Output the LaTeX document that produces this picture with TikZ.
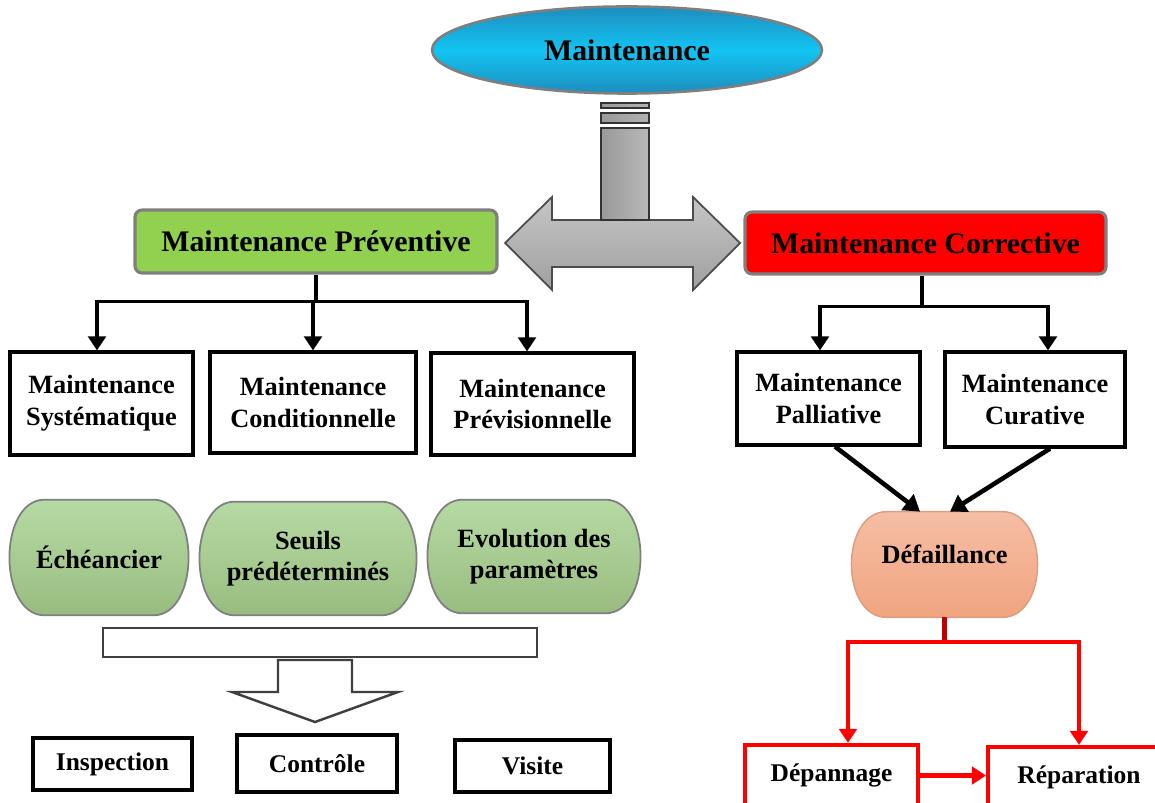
\documentclass[tikz,border=0pt]{standalone}
\usepackage{fontspec}
\setmainfont{Liberation Serif}
\usetikzlibrary{arrows.meta,shapes.geometric,backgrounds,calc}

\definecolor{prevgreen}{HTML}{92D050}
\definecolor{corred}{HTML}{FF0000}
\definecolor{edgegray}{HTML}{7F7F7F}
\definecolor{pillgreen}{HTML}{A9D18E}
\definecolor{pilltop}{HTML}{B6DAA3}
\definecolor{salmontop}{HTML}{F5BEA5}
\definecolor{salmonbot}{HTML}{F1A47F}
\definecolor{skyedge}{HTML}{1E8DBE}
\definecolor{skymid}{HTML}{12C4F2}
\definecolor{darkred}{HTML}{C00000}

\tikzset{
  box/.style={draw, line width=1.8pt, align=center, inner sep=0pt,
    font=\fontsize{15}{18}\selectfont\bfseries},
  smallbox/.style={box, font=\fontsize{14.5}{17}\selectfont\bfseries},
  redbox/.style={smallbox, draw=corred, line width=2.4pt},
  head/.style={draw=edgegray, line width=1.8pt, rounded corners=4pt, inner sep=0pt,
    font=\fontsize{17}{20}\selectfont\bfseries},
  pilltext/.style={align=center, inner sep=0pt,
    font=\fontsize{15}{18}\selectfont\bfseries},
  link/.style={line width=2.1pt},
  linkarrow/.style={link, -{Triangle[width=10pt,length=8pt]}},
  redlink/.style={corred, line width=2.3pt},
  redarrow/.style={redlink, -{Triangle[width=10pt,length=8pt]}}
}

% capsule outline round a node: flat top and bottom, bulging sides
\newcommand{\pill}[2]{%
  \path[#2] ($(#1.north west)+(35,0)$) .. controls +(-47,0) and +(-47,0) .. ($(#1.south west)+(35,0)$)
    -- ($(#1.south east)+(-35,0)$) .. controls +(47,0) and +(47,0) .. ($(#1.north east)+(-35,0)$) -- cycle;}

\begin{document}
\begin{tikzpicture}[x=0.02cm, y=-0.02cm]
  \useasboundingbox (0,0) rectangle (1155,803);

  %%top
  \node[ellipse, draw=edgegray, line width=1.5pt, minimum width=7.8cm, minimum height=1.74cm,
    top color=skyedge, bottom color=skyedge, middle color=skymid,
    font=\fontsize{17}{20}\selectfont\bfseries] (maint) at (627,50) {Maintenance};

  \draw[edgegray!60!black, line width=1pt, top color=gray!45, bottom color=gray!75]
    (505,243) -- (552,197) -- (552,220) -- (693,220) -- (693,197) -- (740,243)
    -- (693,290) -- (693,267) -- (552,267) -- (552,290) -- cycle;
  \draw[black!80, line width=1pt, left color=gray!80, right color=gray!60] (601,103) rectangle (649,108);
  \draw[black!80, line width=1pt, left color=gray!80, right color=gray!60] (601,113) rectangle (649,123);
  \draw[black!80, line width=1pt, left color=gray!80, right color=gray!55] (601,128) rectangle (649,220);

  \node[head, fill=prevgreen, minimum width=7.24cm, minimum height=1.26cm] (prevhead) at (316,241.5) {Maintenance Préventive};
  \node[head, fill=corred, minimum width=7.22cm, minimum height=1.24cm] (corhead) at (925.5,243) {Maintenance Corrective};

  %%preventive
  \node[box, minimum width=3.66cm, minimum height=2.06cm] (sys) at (101.5,403.5) {Maintenance\\Systématique};
  \node[box, minimum width=4.12cm, minimum height=2.02cm] (cond) at (313,402.5) {Maintenance\\Conditionnelle};
  \node[box, minimum width=4.06cm, minimum height=2.04cm] (prev) at (532.5,404) {Maintenance\\Prévisionnelle};

  \draw[link] (prevhead.south) -- ++(0,27) coordinate (pj);
  \draw[linkarrow] (pj) -| ([xshift=-0.09cm]sys.north);
  \draw[linkarrow] (pj) -- (pj -| cond.north) -- (cond.north);
  \draw[linkarrow] (pj) -| ([xshift=-0.11cm]prev.north);

  \node[pilltext, minimum width=3.56cm, minimum height=2.3cm] (ech) at (99,557.5) {Échéancier};
  \node[pilltext, minimum width=4.32cm, minimum height=2.26cm] (seuil) at (308,558.5) {Seuils\\prédéterminés};
  \node[pilltext, minimum width=4.24cm, minimum height=2.26cm] (evol) at (534,556.5) {Evolution des\\paramètres};
  \begin{scope}[on background layer]
    \pill{ech}{draw=edgegray, line width=1pt, top color=pilltop, bottom color=pillgreen!90!black}
    \pill{seuil}{draw=edgegray, line width=1pt, top color=pilltop, bottom color=pillgreen!90!black}
    \pill{evol}{draw=edgegray, line width=1pt, top color=pilltop, bottom color=pillgreen!90!black}
  \end{scope}

  \draw[black!75, line width=1.4pt] (103,628) rectangle (537,657);
  \draw[black!75, line width=1.4pt, fill=white] (278,660) -- (352,660) -- (352,692) -- (398,692)
    -- (315,722) -- (232,692) -- (278,692) -- cycle;

  \node[smallbox, minimum width=3.18cm, minimum height=1.04cm] (insp) at (112.5,764) {Inspection};
  \node[smallbox, minimum width=3.2cm, minimum height=1.14cm] (ctrl) at (317,763.5) {Contrôle};
  \node[smallbox, minimum width=3.1cm, minimum height=1.04cm] (vis) at (532.5,766) {Visite};

  %%corrective
  \node[box, minimum width=3.66cm, minimum height=1.86cm] (pall) at (828.5,398.5) {Maintenance\\Palliative};
  \node[box, minimum width=3.6cm, minimum height=1.9cm] (cur) at (1035,399.5) {Maintenance\\Curative};

  \draw[link] ([xshift=-0.07cm]corhead.south) -- ++(0,31) coordinate (cj);
  \draw[linkarrow] (cj) -| ([xshift=-0.17cm]pall.north);
  \draw[linkarrow] (cj) -| ([xshift=0.26cm]cur.north);

  \node[pilltext, minimum width=3.7cm, minimum height=2.1cm, text depth=12pt] (defa) at (944.5,564.5) {Défaillance};
  \begin{scope}[on background layer]
    \pill{defa}{draw=salmonbot!80!gray, line width=0.8pt, top color=salmontop, bottom color=salmonbot}
  \end{scope}

  \draw[link, line width=2.6pt, -{Triangle[width=11pt,length=9pt]}] ([xshift=0.13cm]pall.south) -- ([xshift=-0.49cm]defa.north);
  \draw[link, line width=2.6pt, -{Triangle[width=11pt,length=9pt]}] ([xshift=0.3cm]cur.south) -- ([xshift=0.11cm]defa.north);

  \node[redbox, minimum width=3.46cm, minimum height=1.22cm] (dep) at (831.5,775.5) {Dépannage};
  \node[redbox, minimum width=3.64cm, minimum height=1.22cm] (rep) at (1079,777.5) {Réparation};

  \draw[darkred, line width=2.6pt] (defa.south) -- ++(0,25) coordinate (rj);
  \draw[redarrow] (rj) -| ([xshift=0.33cm]dep.north);
  \draw[redarrow] (rj) -| (rep.north);
  \draw[redarrow] (dep.east) -- (dep.east -| rep.west);

\end{tikzpicture}
\end{document}
